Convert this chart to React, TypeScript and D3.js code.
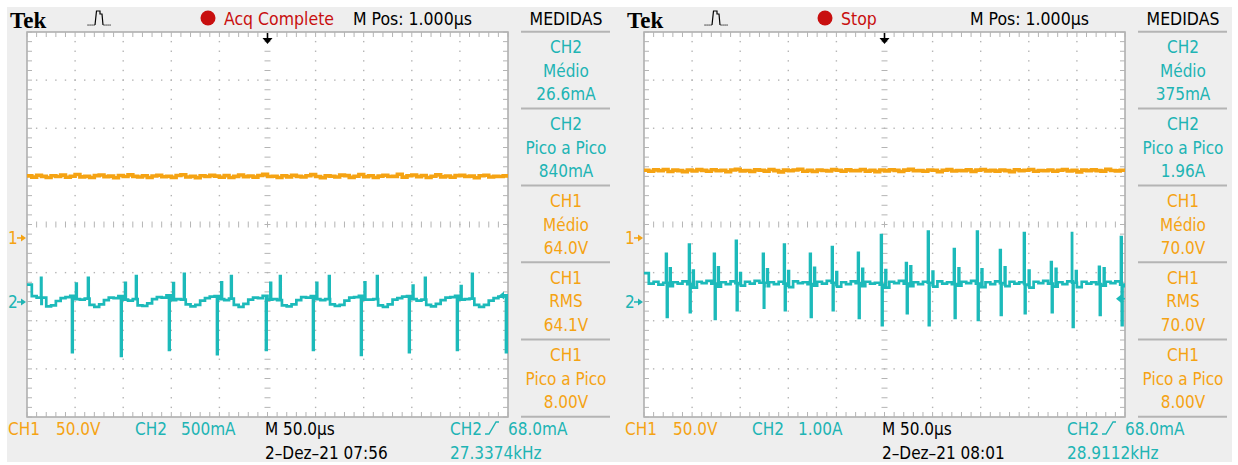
import React from "react";
import * as d3 from "d3";

const W = 1238;
const H = 465;

// Acquisition setup shared by both captures
const TIME_PER_DIV = 50; // µs
const DIV_X = 10;
const DIV_Y = 8;
const CH1_POSITION = -0.28; // divisions from centre
const CH2_POSITION = -1.61;
const TRIGGER_LEVEL = 68.0; // mA
const CH1_PER_DIV = 50; // V

// Capture 1 (07:56)
const leftCh2PerDiv = 500; // mA
const leftCh1 = [
  64.5, 63.2, 65.1, 64.0, 62.8, 64.6, 63.9, 65.3, 63.1, 64.2, 66.0, 63.5, 64.1, 62.9, 64.8, 65.4, 63.7, 64.3, 62.6, 64.9,
  63.8, 65.6, 64.0, 63.3, 64.7, 62.8, 64.4, 65.2, 63.6, 64.1, 63.0, 64.9, 65.7, 63.4, 64.2, 62.7, 64.6, 63.9, 65.0, 64.3,
  63.1, 64.8, 62.9, 64.0, 65.5, 63.7, 64.4, 63.2, 64.9, 66.1, 63.8, 64.2, 62.8, 64.7, 63.5, 65.2, 64.0, 63.3, 64.6, 65.8,
  63.9, 62.7, 64.5, 64.1, 63.4, 65.3, 64.8, 63.0, 64.2, 65.9, 63.6, 64.7, 62.9, 64.3, 65.1, 63.8, 64.0, 66.2, 63.2, 64.6,
  65.4, 63.7, 64.9, 62.8, 64.1, 65.6, 63.5, 64.4, 63.1, 64.8, 65.0, 63.9, 64.3, 62.6, 64.7, 65.2, 63.4, 64.0, 63.8, 64.5, 64.1,
];
const leftCh2Base = [
  180, 60, 45, -20, -45, -35, 10, 40, 50, 65,
  30, 25, 35, -30, -50, -25, 20, 45, 40, 60,
  25, 15, 30, -35, -40, -15, 30, 50, 45, 70,
  20, 30, 25, -25, -45, -30, 15, 40, 55, 60,
  30, 20, 35, -30, -50, -20, 25, 45, 40, 65,
  25, 30, 20, -35, -45, -25, 20, 50, 45, 60,
  30, 20, 30, -25, -40, -30, 15, 45, 50, 65,
  25, 25, 30, -35, -50, -25, 25, 40, 55, 60,
  30, 15, 25, -30, -45, -20, 20, 45, 50, 65,
  25, 30, 35, -30, -50, -30, 15, 40, 55, 70,
  30,
];
const leftDownTimes = [46.8, 97.7, 147.6, 197.5, 248.4, 297.3, 347.2, 397.1, 447.0, 497.9];
const leftDownPeaks = [-520, -561, -499, -541, -499, -499, -551, -520, -499, -520];
const leftSmallUpTimes = [51, 102, 152, 202, 253, 301, 351, 401, 451];
const leftSmallUpPeaks = [190, 200, 195, 205, 198, 200, 205, 170, 165];
const leftBigUpTimes = [14.6, 63.4, 113.3, 163.2, 212.1, 263.0, 313.9, 363.8, 413.7, 462.6];
const leftBigUpPeaks = [250, 250, 270, 291, 270, 270, 270, 270, 250, 291];
const leftMeasValues = ["26.6mA", "840mA", "64.0V", "64.1V", "8.00V"];

// Capture 2 (08:01)
const rightCh2PerDiv = 1000; // mA
const rightCh1 = [
  70.3, 69.4, 70.8, 69.9, 71.2, 69.1, 70.5, 70.0, 68.9, 70.7, 69.6, 71.0, 70.2, 69.3, 70.9, 69.8, 70.4, 68.8, 70.6, 71.3,
  69.7, 70.1, 69.2, 70.8, 70.3, 69.5, 71.1, 70.0, 68.7, 70.5, 69.9, 70.7, 71.4, 69.4, 70.2, 69.0, 70.6, 70.1, 69.6, 71.0,
  70.4, 69.3, 70.8, 69.8, 70.0, 71.2, 69.5, 70.3, 68.9, 70.6, 69.7, 70.9, 70.2, 69.1, 70.5, 71.3, 69.8, 70.0, 69.4, 70.7,
  70.3, 68.8, 70.4, 71.0, 69.6, 70.1, 69.9, 70.8, 69.2, 70.5, 71.1, 69.7, 70.2, 69.5, 70.6, 70.0, 68.9, 70.9, 69.8, 70.3,
  71.2, 69.4, 70.1, 69.9, 70.7, 69.3, 70.4, 71.0, 69.6, 70.2, 68.7, 70.5, 69.8, 70.8, 70.0, 69.5, 71.3, 70.1, 69.7, 70.4, 70.0,
];
const rightCh2Base = [
  600, 380, 420, 360, 400, 330, 410, 380, 430, 370,
  300, 420, 390, 440, 380, 320, 410, 370, 430, 390,
  340, 420, 380, 440, 400, 330, 410, 370, 420, 380,
  310, 430, 390, 410, 370, 340, 420, 380, 440, 400,
  320, 410, 370, 430, 390, 330, 420, 380, 400, 360,
  300, 420, 390, 440, 380, 330, 410, 370, 420, 400,
  320, 430, 380, 410, 370, 340, 420, 390, 440, 380,
  310, 410, 370, 430, 390, 330, 420, 380, 410, 360,
  300, 420, 390, 440, 380, 320, 410, 370, 430, 400,
  310, 420, 380, 410, 370, 340, 420, 390, 430, 360,
  300,
];
const rightUpTimes = [22.9, 46.8, 72.8, 95.6, 123.7, 145.6, 172.6, 195.4, 222.5, 246.4, 272.4, 295.2, 322.2, 346.2, 370.1, 395.0, 423.1, 444.9, 473.0, 495.8];
const rightUpPeaks = [1000, 1190, 1000, 1270, 1000, 1190, 1000, 1140, 1020, 1390, 810, 1460, 1100, 1460, 1080, 1430, 830, 1430, 730, 1350];
const rightDownTimes = [23.8, 47.7, 73.7, 96.5, 124.6, 146.5, 173.5, 196.3, 223.4, 247.3, 273.3, 296.1, 323.1, 347.1, 371.0, 395.9, 424.0, 445.8, 473.9, 496.7];
const rightDownPeaks = [-310, -210, -350, -170, -120, -170, -310, -170, -330, -480, -230, -480, -330, -370, -270, -230, -210, -520, -270, -480];
const rightMinorTimes = [27, 51, 77, 100, 128, 150, 177, 200, 227, 251, 277, 300, 327, 351, 375, 400, 428, 449, 478];
const rightMinorPeaks = [700, 650, 720, 600, 680, 640, 710, 620, 690, 660, 740, 630, 700, 680, 720, 650, 690, 640, 700];
const rightMeasValues = ["375mA", "1.96A", "70.0V", "70.0V", "8.00V"];

// Measurement panel layout (same for both captures)
const measChannels = ["CH2", "CH2", "CH1", "CH1", "CH1"];
const measNames = ["Médio", "Pico a Pico", "Médio", "RMS", "Pico a Pico"];

const ORANGE = "#f5a313";
const CYAN = "#1cbaba";
const CYAN_TEXT = "#20b4b4";
const RED = "#c80f0f";
const GRID = "#b4b4b4";
const SANS = "'DejaVu Sans Condensed', 'Liberation Sans Narrow', 'DejaVu Sans', sans-serif";

const SCREEN = { x: 27, y: 32, w: 481, h: 385 };
const SPAN = TIME_PER_DIV * DIV_X;

type Pt = { t: number; v: number };

function mergeEvents(base: number[], events: [number[], number[]][]): Pt[] {
  const n = base.length;
  const dt = SPAN / (n - 1);
  const pts: Pt[] = base.map((v, i) => ({ t: i * dt, v }));
  events.forEach(([ts, vs]) =>
    ts.forEach((t, k) => {
      const i = Math.min(n - 1, Math.floor(t / dt));
      pts.push({ t, v: vs[k] }, { t: t + 0.7, v: base[i] });
    })
  );
  pts.sort((a, b) => a.t - b.t);
  return pts;
}

function samples(values: number[]): Pt[] {
  const dt = SPAN / (values.length - 1);
  return values.map((v, i) => ({ t: i * dt, v }));
}

type PanelCfg = {
  status: string;
  ch2PerDiv: number;
  ch2Label: string;
  clock: string;
  freq: string;
  ch1: number[];
  ch2: Pt[];
  meas: string[];
};

function Panel({ dx, cfg, id }: { dx: number; cfg: PanelCfg; id: string }) {
  const x0 = SCREEN.x + dx;
  const y0 = SCREEN.y;
  const x1 = x0 + SCREEN.w;
  const y1 = y0 + SCREEN.h;
  const cx = (x0 + x1) / 2;
  const cy = (y0 + y1) / 2;
  const divX = SCREEN.w / DIV_X;
  const divY = SCREEN.h / DIV_Y;

  const xScale = d3.scaleLinear().domain([0, SPAN]).range([x0, x1]);
  const yCh1 = d3
    .scaleLinear()
    .domain([(-DIV_Y / 2 - CH1_POSITION) * CH1_PER_DIV, (DIV_Y / 2 - CH1_POSITION) * CH1_PER_DIV])
    .range([y1, y0]);
  const yCh2 = d3
    .scaleLinear()
    .domain([(-DIV_Y / 2 - CH2_POSITION) * cfg.ch2PerDiv, (DIV_Y / 2 - CH2_POSITION) * cfg.ch2PerDiv])
    .range([y1, y0]);

  const line1 = d3
    .line<Pt>()
    .x((d) => xScale(d.t))
    .y((d) => yCh1(d.v))
    .curve(d3.curveStepAfter);
  const line2 = d3
    .line<Pt>()
    .x((d) => xScale(d.t))
    .y((d) => yCh2(d.v))
    .curve(d3.curveStepAfter);

  const minorX = d3.range(0, DIV_X * 5 + 1).map((i) => x0 + (i * divX) / 5);
  const minorY = d3.range(0, DIV_Y * 5 + 1).map((i) => y0 + (i * divY) / 5);
  const majorX = d3.range(1, DIV_X).filter((i) => i !== DIV_X / 2).map((i) => x0 + i * divX);
  const majorY = d3.range(1, DIV_Y).filter((i) => i !== DIV_Y / 2).map((i) => y0 + i * divY);

  const g1 = yCh1(0);
  const g2 = yCh2(0);
  const trigY = yCh2(TRIGGER_LEVEL);

  const measTop = [31.7, 108.5, 185.5, 262.3, 339.5, 416.7];
  const mx = 566 + dx;

  return (
    <g>
      {/* header */}
      <text x={10 + dx} y={28} fontFamily="'Liberation Serif', 'DejaVu Serif', serif" fontWeight="bold" fontSize={23} fill="#000">
        Tek
      </text>
      <g stroke="#000" strokeWidth={1.2} fill="none">
        <path d={`M${95 + dx},25 L${96.5 + dx},11 L${100 + dx},11 L${100 + dx},14 L${102 + dx},14 L${103 + dx},25`} />
      </g>
      {[88, 90, 92, 94, 104, 106, 108, 110].map((px) => (
        <rect key={px} x={px + dx - 0.5} y={24.5} width={1.1} height={1.1} fill="#000" />
      ))}
      <circle cx={208 + dx} cy={18} r={7.5} fill={RED} />
      <text x={224 + dx} y={25} fontFamily={SANS} fontSize={17.5} fill={RED}>
        {cfg.status}
      </text>
      <text x={353 + dx} y={25} fontFamily={SANS} fontSize={17.5} fill="#000">
        M Pos: 1.000µs
      </text>
      <text x={mx} y={25} fontFamily={SANS} fontSize={17.5} fill="#000" textAnchor="middle">
        MEDIDAS
      </text>

      {/* graticule */}
      <rect x={x0} y={y0} width={SCREEN.w} height={SCREEN.h} fill="#fff" stroke="#aaaaaa" strokeWidth={1.5} />
      <g stroke={GRID} strokeWidth={1}>
        {minorX.map((x, i) => (
          <g key={"mx" + i}>
            <line x1={x} x2={x} y1={y0} y2={y0 + 5} />
            <line x1={x} x2={x} y1={y1 - 5} y2={y1} />
            <line x1={x} x2={x} y1={cy - 3} y2={cy + 3} />
          </g>
        ))}
        {minorY.map((y, i) => (
          <g key={"my" + i}>
            <line x1={x0} x2={x0 + 5} y1={y} y2={y} />
            <line x1={x1 - 5} x2={x1} y1={y} y2={y} />
            <line x1={cx - 3} x2={cx + 3} y1={y} y2={y} />
          </g>
        ))}
      </g>
      <g fill={GRID}>
        {majorX.map((x, i) =>
          minorY.slice(1, -1).map((y, j) => <rect key={`dv${i}-${j}`} x={x - 0.7} y={y - 0.7} width={1.4} height={1.4} />)
        )}
        {majorY.map((y, i) =>
          minorX.slice(1, -1).map((x, j) => <rect key={`dh${i}-${j}`} x={x - 0.7} y={y - 0.7} width={1.4} height={1.4} />)
        )}
      </g>

      {/* traces */}
      <clipPath id={id}>
        <rect x={x0} y={y0} width={SCREEN.w} height={SCREEN.h} />
      </clipPath>
      <g clipPath={`url(#${id})`} fill="none" strokeLinejoin="miter">
        <path d={line1(samples(cfg.ch1)) || ""} stroke={ORANGE} strokeWidth={3.6} />
        <path d={line2(cfg.ch2) || ""} stroke={CYAN} strokeWidth={2.7} />
      </g>

      {/* trigger position */}
      <g stroke="#000" fill="#000">
        <line x1={cx} x2={cx} y1={y0 + 1} y2={y0 + 9} strokeWidth={1.6} />
        <path d={`M${cx - 5},${y0 + 6} L${cx + 5},${y0 + 6} L${cx},${y0 + 12} Z`} stroke="none" />
      </g>
      {/* trigger level */}
      <g fill={CYAN} stroke={CYAN}>
        <line x1={x1 - 6} x2={x1} y1={trigY} y2={trigY} strokeWidth={1.6} />
        <path d={`M${x1 - 9},${trigY} L${x1 - 4},${trigY - 4} L${x1 - 4},${trigY + 4} Z`} stroke="none" />
      </g>

      {/* channel ground markers */}
      <text x={8 + dx} y={g1 + 6} fontFamily={SANS} fontSize={17} fill={ORANGE}>
        1
      </text>
      <line x1={17 + dx} x2={22 + dx} y1={g1} y2={g1} stroke={ORANGE} strokeWidth={1.5} />
      <path d={`M${21 + dx},${g1 - 3.5} L${26 + dx},${g1} L${21 + dx},${g1 + 3.5} Z`} fill={ORANGE} />
      <text x={8 + dx} y={g2 + 6} fontFamily={SANS} fontSize={17} fill={CYAN_TEXT}>
        2
      </text>
      <line x1={17 + dx} x2={22 + dx} y1={g2} y2={g2} stroke={CYAN_TEXT} strokeWidth={1.5} />
      <path d={`M${21 + dx},${g2 - 3.5} L${26 + dx},${g2} L${21 + dx},${g2 + 3.5} Z`} fill={CYAN_TEXT} />

      {/* measurements */}
      {measTop.map((t, i) => (
        <line key={"sep" + i} x1={521 + dx} x2={610 + dx} y1={t} y2={t} stroke="#b4b4b4" strokeWidth={2} />
      ))}
      {measChannels.map((ch, i) => {
        const col = ch === "CH2" ? CYAN_TEXT : ORANGE;
        const top = measTop[i];
        return (
          <g key={"m" + i} fontFamily={SANS} fontSize={17} fill={col} textAnchor="middle">
            <text x={mx} y={top + 21.5}>{ch}</text>
            <text x={mx} y={top + 45}>{measNames[i]}</text>
            <text x={mx} y={top + 68.5}>{cfg.meas[i]}</text>
          </g>
        );
      })}

      {/* footer */}
      <g fontFamily={SANS} fontSize={17}>
        <text x={8 + dx} y={435} fill={ORANGE}>CH1</text>
        <text x={56 + dx} y={435} fill={ORANGE}>50.0V</text>
        <text x={135 + dx} y={435} fill={CYAN_TEXT}>CH2</text>
        <text x={181 + dx} y={435} fill={CYAN_TEXT}>{cfg.ch2Label}</text>
        <text x={265 + dx} y={435} fill="#000">M 50.0µs</text>
        <text x={265 + dx} y={459} fill="#000">{`2–Dez–21 ${cfg.clock}`}</text>
        <text x={450 + dx} y={435} fill={CYAN_TEXT}>CH2</text>
        <text x={508 + dx} y={435} fill={CYAN_TEXT}>68.0mA</text>
        <text x={450 + dx} y={459} fill={CYAN_TEXT}>{cfg.freq}</text>
      </g>
      <path
        d={`M${485 + dx},434 L${489 + dx},434 L${496 + dx},422 L${499 + dx},422`}
        fill="none"
        stroke={CYAN_TEXT}
        strokeWidth={1.4}
      />
    </g>
  );
}

export default function App() {
  const left: PanelCfg = {
    status: "Acq Complete",
    ch2PerDiv: leftCh2PerDiv,
    ch2Label: "500mA",
    clock: "07:56",
    freq: "27.3374kHz",
    ch1: leftCh1,
    ch2: mergeEvents(leftCh2Base, [
      [leftDownTimes, leftDownPeaks],
      [leftSmallUpTimes, leftSmallUpPeaks],
      [leftBigUpTimes, leftBigUpPeaks],
    ]),
    meas: leftMeasValues,
  };
  const right: PanelCfg = {
    status: "Stop",
    ch2PerDiv: rightCh2PerDiv,
    ch2Label: "1.00A",
    clock: "08:01",
    freq: "28.9112kHz",
    ch1: rightCh1,
    ch2: mergeEvents(rightCh2Base, [
      [rightUpTimes, rightUpPeaks],
      [rightDownTimes, rightDownPeaks],
      [rightMinorTimes, rightMinorPeaks],
    ]),
    meas: rightMeasValues,
  };
  return (
    <svg width={W} height={H} style={{ position: "absolute", left: 0, top: 0 }}>
      <rect x={0} y={0} width={W} height={H} fill="#fff" />
      <rect x={7} y={7} width={1225} height={455} fill="#eeeeee" />
      <Panel dx={0} cfg={left} id="clipA" />
      <Panel dx={617} cfg={right} id="clipB" />
    </svg>
  );
}
